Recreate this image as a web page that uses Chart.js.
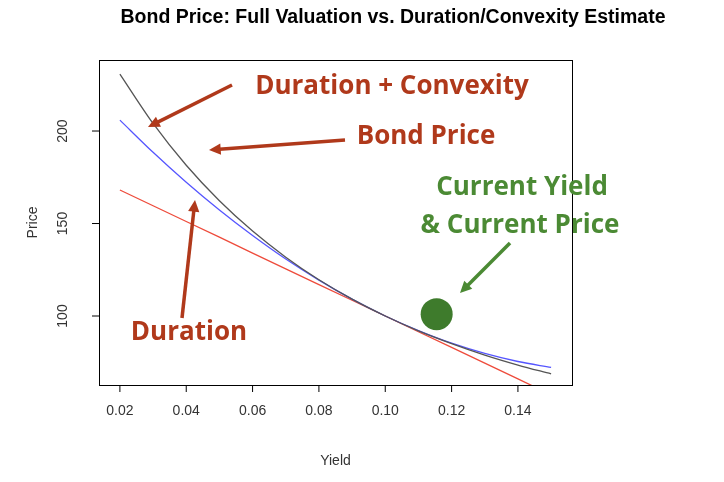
<!DOCTYPE html>
<html><head><meta charset="utf-8">
<script src="https://cdn.jsdelivr.net/npm/chart.js@4"></script>
<style>html,body{margin:0;padding:0;background:#fff}</style>
</head><body>
<div style="width:724px;height:482px"><canvas id="c"></canvas></div>
<script>
const yields = [0.02,0.03,0.04,0.05,0.06,0.07,0.08,0.09,0.10,0.11,0.12,0.13,0.14,0.15];
const bondPrice = [230.8,204.1,181.5,162.3,145.9,131.8,119.6,109.1,100,92.0,85.1,78.9,73.5,68.7];
const durConvex = [205.9,188.5,172.3,157.3,143.5,130.8,119.4,109.1,100,92.1,85.3,79.8,75.4,72.2];
const duration = [168.1,159.6,151.1,142.6,134.0,125.5,117.0,108.5,100,91.5,83.0,74.5,66.0,57.4];
const xTicks = [0.02,0.04,0.06,0.08,0.10,0.12,0.14];
const yTicks = [100,150,200];
const current = {x:0.1155, y:101};

const pts = a => yields.map((x,i)=>({x, y:a[i]}));
const FONT = '"Liberation Sans", Arial, sans-serif';
const ANN = '"Open Sans", sans-serif';

function arrow(ctx,x1,y1,x2,y2,col){
  ctx.save();ctx.strokeStyle=col;ctx.fillStyle=col;ctx.lineWidth=3.5;
  const a=Math.atan2(y2-y1,x2-x1), h=13;
  const bx=x2-h*0.8*Math.cos(a), by=y2-h*0.8*Math.sin(a);
  ctx.beginPath();ctx.moveTo(x1,y1);ctx.lineTo(bx,by);ctx.stroke();
  ctx.beginPath();ctx.moveTo(x2,y2);
  ctx.lineTo(x2-h*Math.cos(a-0.45),y2-h*Math.sin(a-0.45));
  ctx.lineTo(x2-h*Math.cos(a+0.45),y2-h*Math.sin(a+0.45));
  ctx.closePath();ctx.fill();ctx.restore();
}

const deco = {
  id:'deco',
  afterDraw(chart){
    const ctx=chart.ctx, a=chart.chartArea, xs=chart.scales.x, ys=chart.scales.y;
    ctx.save();
    ctx.strokeStyle='#000';ctx.lineWidth=1;
    ctx.strokeRect(a.left+0.5,a.top+0.5,a.right-a.left,a.bottom-a.top);
    ctx.fillStyle='#333';ctx.font='14px '+FONT;
    ctx.textAlign='center';ctx.textBaseline='middle';
    xTicks.forEach(v=>{const p=xs.getPixelForValue(v);
      ctx.beginPath();ctx.moveTo(p,a.bottom);ctx.lineTo(p,a.bottom+7);ctx.stroke();
      ctx.fillText(v.toFixed(2),p,a.bottom+26);});
    yTicks.forEach(v=>{const p=ys.getPixelForValue(v);
      ctx.beginPath();ctx.moveTo(a.left,p);ctx.lineTo(a.left-7,p);ctx.stroke();
      ctx.save();ctx.translate(a.left-36,p);ctx.rotate(-Math.PI/2);ctx.fillText(String(v),0,0);ctx.restore();});
    ctx.fillText('Yield',(a.left+a.right)/2,461);
    ctx.save();ctx.translate(33,(a.top+a.bottom)/2);ctx.rotate(-Math.PI/2);ctx.fillText('Price',0,0);ctx.restore();
    ctx.fillStyle='#000';ctx.font='bold 19.5px '+FONT;
    ctx.fillText('Bond Price: Full Valuation vs. Duration/Convexity Estimate',393,18);
    ctx.fillStyle='#3e7b2c';ctx.beginPath();
    ctx.arc(xs.getPixelForValue(current.x),ys.getPixelForValue(current.y),16,0,Math.PI*2);ctx.fill();
    const red='#b0391b', green='#4b8a34';
    ctx.font='bold 26px '+ANN;
    ctx.fillStyle=red;
    ctx.fillText('Duration + Convexity',392,87);
    ctx.fillText('Bond Price',426,137);
    ctx.fillText('Duration',189,333);
    ctx.fillStyle=green;
    ctx.fillText('Current Yield',522,188);
    ctx.fillText('& Current Price',520,226);
    arrow(ctx,232,85,148,127,red);
    arrow(ctx,345,140,209,150,red);
    arrow(ctx,182,318,195,200,red);
    arrow(ctx,510,243,460,293,green);
    ctx.restore();
  }
};

new Chart(document.getElementById('c'),{
  type:'line',
  data:{datasets:[
    {data:pts(bondPrice),borderColor:'#555',borderWidth:1.3,pointRadius:0,tension:0.4,cubicInterpolationMode:'monotone'},
    {data:pts(durConvex),borderColor:'#5555ff',borderWidth:1.3,pointRadius:0,tension:0.4,cubicInterpolationMode:'monotone'},
    {data:pts(duration),borderColor:'#ee4b3b',borderWidth:1.3,pointRadius:0,tension:0}
  ]},
  options:{
    responsive:true,maintainAspectRatio:false,animation:false,
    layout:{padding:{left:0,right:152,top:60,bottom:0}},
    plugins:{legend:{display:false},tooltip:{enabled:false}},
    scales:{
      x:{type:'linear',min:0.0137,max:0.1563,grid:{display:false},border:{display:false},
         ticks:{display:false},afterFit(s){s.height=97;}},
      y:{type:'linear',min:62.7,max:238.4,grid:{display:false},border:{display:false},
         ticks:{display:false},afterFit(s){s.width=99;}}
    }
  },
  plugins:[deco]
});
</script>
</body></html>
